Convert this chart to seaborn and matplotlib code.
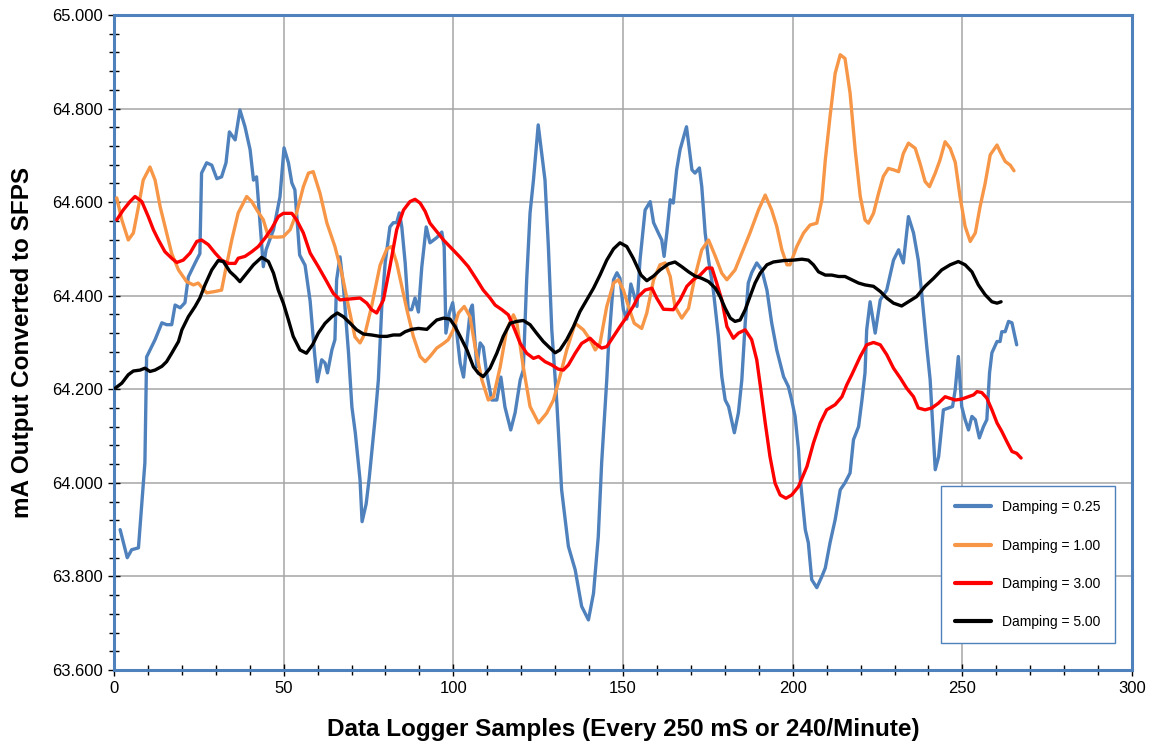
import matplotlib
matplotlib.use('Agg')
import matplotlib.pyplot as plt
from matplotlib.ticker import MultipleLocator, FormatStrFormatter
import pandas as pd
import seaborn as sns

# valeurs
labels = ["Damping = 0.25", "Damping = 1.00", "Damping = 3.00", "Damping = 5.00"]
colors = ["#4F81BD", "#F79646", "#FF0000", "#000000"]

d025_x = [1.8, 3.9, 5.2, 7.2, 8.2, 9.1, 9.6, 12.1, 14.1, 15.5, 17.0, 18.0, 19.5, 20.9, 21.9, 23.9,
          25.3, 25.8, 27.3, 28.8, 30.3, 31.7, 33.0, 34.0, 35.7, 37.1, 38.6, 40.1, 41.1, 42.0, 42.8,
          44.0, 44.8, 47.0, 48.9, 50.1, 51.4, 52.4, 53.3, 54.7, 56.3, 57.8, 59.0, 59.9, 61.2, 62.2,
          62.9, 64.2, 65.1, 65.6, 66.6, 67.6, 69.1, 70.1, 71.1, 72.5, 73.1, 74.3, 75.2, 76.9, 77.9,
          78.9, 79.9, 81.3, 82.3, 83.3, 84.1, 84.8, 85.8, 86.7, 87.7, 88.7, 89.7, 90.7, 92.0, 93.1,
          95.1, 96.6, 97.3, 97.8, 98.8, 99.8, 101.0, 102.0, 103.0, 104.0, 105.0, 105.6, 106.9, 107.9,
          108.8, 109.8, 111.3, 112.8, 114.0, 115.2, 116.9, 118.2, 119.7, 120.6, 121.6, 122.6, 123.6,
          125.0, 127.0, 128.0, 129.0, 130.5, 131.9, 133.9, 135.9, 137.8, 139.8, 141.3, 142.7, 143.7,
          145.2, 145.7, 147.2, 148.2, 149.1, 150.1, 151.1, 151.6, 152.3, 153.3, 154.1, 155.0, 156.5,
          158.0, 159.0, 160.4, 161.4, 162.1, 162.9, 163.9, 164.8, 165.8, 166.8, 168.7, 170.3, 171.2,
          172.5, 173.2, 174.2, 175.2, 176.6, 178.1, 179.1, 180.1, 181.1, 182.8, 184.0, 185.0, 186.0,
          186.9, 187.9, 189.4, 190.9, 192.4, 193.8, 195.3, 197.3, 198.7, 199.7, 200.7, 201.7, 202.2,
          203.7, 204.6, 205.6, 207.1, 208.6, 209.6, 211.0, 212.5, 214.0, 215.4, 216.9, 217.9, 219.4,
          220.4, 221.3, 221.8, 222.8, 224.3, 225.8, 227.7, 229.7, 231.2, 232.6, 234.1, 235.6, 237.0,
          238.0, 239.5, 240.5, 242.0, 243.0, 244.4, 247.1, 247.9, 248.8, 249.8, 250.8, 251.8, 252.8,
          253.8, 255.0, 256.2, 257.2, 258.0, 258.7, 260.2, 261.1, 261.6, 262.6, 263.6, 264.6, 266.0]
d025_y = [63.900, 63.840, 63.857, 63.861, 63.957, 64.043, 64.269, 64.306, 64.342, 64.338, 64.338,
          64.380, 64.374, 64.385, 64.440, 64.470, 64.490, 64.662, 64.684, 64.679, 64.650, 64.654,
          64.684, 64.750, 64.733, 64.797, 64.761, 64.712, 64.647, 64.654, 64.577, 64.462, 64.498,
          64.541, 64.611, 64.716, 64.684, 64.641, 64.626, 64.487, 64.465, 64.388, 64.284, 64.216,
          64.263, 64.256, 64.235, 64.284, 64.306, 64.434, 64.483, 64.419, 64.278, 64.162, 64.107,
          64.006, 63.917, 63.955, 64.010, 64.135, 64.220, 64.376, 64.470, 64.547, 64.556, 64.556,
          64.577, 64.547, 64.470, 64.370, 64.370, 64.395, 64.365, 64.462, 64.547, 64.513, 64.524,
          64.536, 64.504, 64.320, 64.363, 64.385, 64.320, 64.256, 64.226, 64.300, 64.370, 64.380,
          64.248, 64.299, 64.290, 64.235, 64.177, 64.177, 64.226, 64.162, 64.113, 64.150, 64.220,
          64.241, 64.434, 64.577, 64.647, 64.765, 64.647, 64.504, 64.327, 64.170, 63.985, 63.864,
          63.814, 63.736, 63.707, 63.764, 63.885, 64.043, 64.220, 64.290, 64.434, 64.449, 64.437,
          64.370, 64.350, 64.377, 64.425, 64.400, 64.377, 64.476, 64.583, 64.601, 64.556, 64.534,
          64.519, 64.484, 64.534, 64.605, 64.598, 64.669, 64.712, 64.761, 64.669, 64.662, 64.673,
          64.633, 64.534, 64.476, 64.412, 64.313, 64.227, 64.177, 64.163, 64.107, 64.150, 64.220,
          64.342, 64.427, 64.449, 64.470, 64.455, 64.412, 64.342, 64.284, 64.227, 64.206, 64.177,
          64.142, 64.071, 64.010, 63.900, 63.872, 63.793, 63.776, 63.800, 63.818, 63.872, 63.921,
          63.985, 64.000, 64.021, 64.092, 64.120, 64.177, 64.235, 64.327, 64.387, 64.320, 64.391,
          64.412, 64.476, 64.498, 64.470, 64.569, 64.534, 64.476, 64.406, 64.291, 64.220, 64.028,
          64.056, 64.156, 64.163, 64.200, 64.270, 64.163, 64.135, 64.113, 64.142, 64.135, 64.096,
          64.120, 64.135, 64.235, 64.278, 64.302, 64.302, 64.323, 64.323, 64.345, 64.342, 64.295]

d100_x = [0.8, 2.3, 4.2, 5.7, 7.2, 8.6, 10.6, 12.1, 13.6, 15.5, 17.0, 19.0, 21.4, 23.4, 24.8, 27.3,
          29.8, 31.7, 32.7, 34.7, 36.6, 39.1, 40.6, 42.1, 44.0, 45.5, 48.0, 49.9, 51.9, 53.8, 55.8,
          57.3, 58.7, 60.7, 62.7, 65.1, 67.1, 69.1, 71.0, 72.5, 74.0, 75.9, 78.4, 80.4, 81.8, 83.3,
          84.8, 86.3, 88.2, 90.2, 91.7, 93.1, 95.1, 97.1, 98.5, 100.0, 101.5, 103.2, 104.9, 106.4,
          108.4, 110.3, 111.8, 113.8, 115.7, 117.7, 118.7, 120.6, 122.6, 125.1, 127.5, 129.5, 131.4,
          133.4, 135.9, 138.3, 140.3, 141.8, 143.2, 145.2, 147.2, 148.6, 150.1, 151.6, 153.3, 155.5,
          157.0, 159.0, 160.9, 162.4, 163.9, 165.3, 167.3, 169.3, 171.2, 173.2, 175.2, 177.2, 179.1,
          180.6, 183.0, 185.0, 187.4, 189.9, 191.9, 193.8, 195.3, 196.8, 198.3, 199.2, 201.2, 203.2,
          205.1, 207.1, 208.6, 209.6, 211.0, 212.5, 214.0, 215.4, 216.9, 218.4, 219.9, 221.3, 222.3,
          223.8, 225.3, 226.7, 228.2, 229.7, 231.2, 232.6, 234.1, 236.1, 237.5, 239.0, 240.3, 242.0,
          243.4, 244.9, 246.4, 247.9, 249.3, 250.8, 252.3, 253.8, 255.2, 256.7, 258.2, 260.2, 261.1,
          262.6, 264.1, 265.2]
d100_y = [64.609, 64.562, 64.519, 64.534, 64.590, 64.647, 64.675, 64.647, 64.590, 64.534, 64.490,
          64.455, 64.430, 64.423, 64.427, 64.406, 64.409, 64.412, 64.449, 64.519, 64.577, 64.612,
          64.601, 64.583, 64.562, 64.526, 64.525, 64.526, 64.541, 64.577, 64.633, 64.662, 64.665,
          64.619, 64.556, 64.505, 64.449, 64.377, 64.312, 64.299, 64.320, 64.377, 64.465, 64.500,
          64.505, 64.470, 64.420, 64.370, 64.313, 64.270, 64.259, 64.270, 64.288, 64.298, 64.306,
          64.327, 64.363, 64.377, 64.355, 64.291, 64.220, 64.177, 64.184, 64.248, 64.327, 64.359,
          64.342, 64.248, 64.163, 64.128, 64.149, 64.177, 64.227, 64.284, 64.341, 64.327, 64.306,
          64.284, 64.298, 64.377, 64.427, 64.434, 64.412, 64.377, 64.341, 64.330, 64.363, 64.434,
          64.466, 64.470, 64.441, 64.377, 64.352, 64.373, 64.441, 64.498, 64.519, 64.484, 64.448,
          64.434, 64.455, 64.491, 64.534, 64.583, 64.615, 64.583, 64.548, 64.498, 64.466, 64.466,
          64.505, 64.534, 64.551, 64.555, 64.605, 64.690, 64.783, 64.875, 64.915, 64.907, 64.833,
          64.712, 64.612, 64.562, 64.555, 64.576, 64.619, 64.655, 64.672, 64.669, 64.665, 64.704,
          64.726, 64.715, 64.683, 64.644, 64.633, 64.662, 64.690, 64.729, 64.715, 64.685, 64.612,
          64.548, 64.516, 64.534, 64.590, 64.640, 64.701, 64.722, 64.708, 64.687, 64.679, 64.667]

d300_x = [0.8, 2.7, 4.7, 6.2, 8.2, 10.1, 11.6, 13.1, 15.0, 17.0, 18.5, 20.4, 22.4, 24.4, 25.8, 27.8,
          29.8, 31.7, 33.7, 35.7, 36.6, 38.6, 40.6, 42.5, 44.5, 46.5, 48.4, 49.9, 52.4, 53.8, 55.8,
          57.8, 60.2, 62.7, 64.6, 66.6, 69.6, 72.5, 74.5, 75.9, 77.4, 79.4, 81.3, 83.3, 85.3, 87.2,
          88.7, 90.2, 91.7, 93.1, 95.1, 97.1, 99.5, 102.0, 104.4, 106.9, 108.8, 110.8, 112.3, 114.3,
          116.2, 117.7, 119.7, 121.6, 123.6, 125.1, 127.0, 129.0, 130.9, 132.4, 133.9, 135.9, 137.8,
          140.3, 141.8, 143.7, 145.2, 147.2, 149.1, 151.1, 153.0, 154.5, 156.5, 158.5, 159.9, 161.9,
          164.8, 166.8, 168.8, 170.7, 172.7, 174.7, 176.2, 177.6, 179.1, 180.6, 182.5, 184.0, 186.0,
          187.9, 189.4, 190.4, 191.9, 193.3, 194.8, 196.3, 198.0, 199.7, 201.7, 204.2, 206.1, 208.1,
          210.0, 212.5, 214.5, 215.9, 217.4, 219.9, 221.8, 223.8, 225.8, 227.7, 229.7, 231.7, 233.6,
          235.6, 237.0, 239.0, 241.0, 242.9, 244.9, 247.9, 249.8, 251.8, 253.3, 254.3, 255.7, 257.2,
          258.7, 260.2, 261.6, 263.1, 264.6, 266.0, 267.3]
d300_y = [64.562, 64.583, 64.601, 64.612, 64.601, 64.569, 64.541, 64.519, 64.494, 64.480, 64.471,
          64.476, 64.491, 64.516, 64.519, 64.509, 64.491, 64.476, 64.469, 64.469, 64.480, 64.484,
          64.494, 64.505, 64.523, 64.544, 64.569, 64.576, 64.576, 64.562, 64.534, 64.491, 64.462,
          64.430, 64.405, 64.391, 64.393, 64.395, 64.384, 64.370, 64.363, 64.391, 64.462, 64.541,
          64.583, 64.601, 64.606, 64.598, 64.580, 64.555, 64.537, 64.519, 64.501, 64.482, 64.462,
          64.434, 64.412, 64.395, 64.380, 64.370, 64.359, 64.334, 64.298, 64.277, 64.266, 64.270,
          64.259, 64.252, 64.243, 64.241, 64.252, 64.277, 64.298, 64.309, 64.298, 64.288, 64.291,
          64.313, 64.334, 64.355, 64.377, 64.398, 64.412, 64.416, 64.395, 64.371, 64.370, 64.391,
          64.420, 64.434, 64.444, 64.459, 64.459, 64.427, 64.391, 64.334, 64.309, 64.320, 64.327,
          64.306, 64.263, 64.210, 64.128, 64.056, 63.999, 63.974, 63.967, 63.974, 63.992, 64.035,
          64.085, 64.128, 64.156, 64.167, 64.184, 64.209, 64.231, 64.270, 64.295, 64.300, 64.295,
          64.274, 64.245, 64.224, 64.202, 64.184, 64.160, 64.156, 64.160, 64.170, 64.184, 64.177,
          64.179, 64.184, 64.188, 64.195, 64.193, 64.181, 64.156, 64.128, 64.110, 64.088, 64.067,
          64.063, 64.053]

d500_x = [0.3, 2.3, 4.2, 5.7, 7.7, 9.1, 10.6, 12.1, 14.1, 15.5, 17.0, 19.0, 20.0, 21.9, 23.9, 25.3,
          26.8, 28.8, 30.7, 32.2, 34.2, 35.7, 37.1, 39.1, 41.1, 43.5, 45.5, 47.0, 48.4, 49.9, 51.4,
          52.8, 54.8, 56.7, 58.5, 60.2, 62.2, 64.2, 65.8, 67.6, 69.6, 71.5, 73.5, 75.9, 78.4, 80.4,
          82.3, 84.3, 85.8, 87.7, 89.7, 92.2, 93.6, 95.1, 97.1, 99.0, 100.5, 102.0, 104.0, 105.9,
          107.4, 108.8, 110.8, 112.8, 114.7, 116.7, 118.7, 120.6, 122.6, 124.5, 126.5, 128.5, 130.0,
          131.4, 133.4, 135.4, 137.3, 139.3, 141.3, 143.2, 145.2, 147.2, 149.1, 151.1, 153.0, 155.3,
          157.0, 159.0, 160.9, 163.4, 165.3, 167.3, 169.3, 171.2, 173.2, 175.2, 177.2, 178.6, 180.1,
          181.6, 183.0, 184.5, 186.0, 187.4, 188.9, 190.4, 192.4, 194.3, 197.3, 200.2, 202.7, 204.6,
          206.1, 207.6, 209.6, 211.5, 213.5, 215.4, 217.4, 219.4, 221.3, 223.8, 225.8, 227.7, 229.7,
          232.1, 234.1, 236.5, 239.0, 241.5, 243.9, 246.4, 248.8, 250.8, 252.8, 254.7, 256.7, 258.7,
          260.2, 261.4]
d500_y = [64.202, 64.213, 64.231, 64.239, 64.241, 64.245, 64.238, 64.241, 64.249, 64.259, 64.277,
          64.302, 64.327, 64.355, 64.377, 64.395, 64.423, 64.455, 64.475, 64.473, 64.451, 64.441,
          64.430, 64.448, 64.466, 64.482, 64.473, 64.448, 64.412, 64.384, 64.348, 64.313, 64.284,
          64.277, 64.295, 64.320, 64.341, 64.355, 64.363, 64.355, 64.341, 64.327, 64.318, 64.316,
          64.313, 64.313, 64.316, 64.316, 64.323, 64.328, 64.330, 64.328, 64.338, 64.348, 64.352,
          64.350, 64.334, 64.313, 64.284, 64.248, 64.234, 64.227, 64.245, 64.277, 64.313, 64.341,
          64.345, 64.347, 64.338, 64.320, 64.302, 64.288, 64.278, 64.284, 64.306, 64.334, 64.366,
          64.391, 64.416, 64.444, 64.476, 64.500, 64.513, 64.505, 64.480, 64.444, 64.432, 64.442,
          64.455, 64.468, 64.472, 64.462, 64.451, 64.442, 64.437, 64.430, 64.416, 64.398, 64.373,
          64.352, 64.345, 64.348, 64.370, 64.398, 64.427, 64.448, 64.466, 64.472, 64.475, 64.476,
          64.478, 64.476, 64.466, 64.451, 64.444, 64.444, 64.441, 64.441, 64.434, 64.427, 64.423,
          64.420, 64.409, 64.395, 64.384, 64.378, 64.387, 64.398, 64.420, 64.437, 64.455, 64.466,
          64.473, 64.466, 64.451, 64.423, 64.402, 64.387, 64.384, 64.387]

series_x = [d025_x, d100_x, d300_x, d500_x]
series_y = [d025_y, d100_y, d300_y, d500_y]

frames = []
for lab, xs, ys in zip(labels, series_x, series_y):
    frames.append(pd.DataFrame({"sample": xs, "value": ys, "series": lab}))
df = pd.concat(frames, ignore_index=True)

sns.set_style("white")
plt.rcParams['font.family'] = ['Liberation Sans', 'DejaVu Sans']
plt.rcParams['text.color'] = 'black'
plt.rcParams['axes.labelcolor'] = 'black'
plt.rcParams['xtick.color'] = 'black'
plt.rcParams['ytick.color'] = 'black'

fig = plt.figure(figsize=(11.54, 7.44), dpi=100)
ax = fig.add_axes([0.0988, 0.0995, 0.8822, 0.8804])

sns.lineplot(data=df, x="sample", y="value", hue="series", hue_order=labels,
             palette=dict(zip(labels, colors)), estimator=None, sort=False,
             linewidth=2.4, ax=ax, zorder=3)

ax.set_xlim(0, 300)
ax.set_ylim(63.6, 65.0)
ax.xaxis.set_major_locator(MultipleLocator(50))
ax.xaxis.set_minor_locator(MultipleLocator(10))
ax.yaxis.set_major_locator(MultipleLocator(0.2))
ax.yaxis.set_minor_locator(MultipleLocator(0.04))
ax.yaxis.set_major_formatter(FormatStrFormatter('%.3f'))
ax.grid(True, which='major', color='#A6A6A6', linewidth=1.1, zorder=0)
ax.tick_params(which='both', direction='inout', color='black', labelcolor='black',
               width=1, left=True, bottom=True, labelsize=12)
ax.tick_params(which='major', length=8, pad=4)
ax.tick_params(which='minor', length=7)
for s in ax.spines.values():
    s.set_color('#4F81BD')
    s.set_linewidth(2.2)

ax.set_xlabel("Data Logger Samples (Every 250 mS or 240/Minute)", fontsize=17.5,
              fontweight='bold', labelpad=16, color='black')
ax.set_ylabel("mA Output Converted to SFPS", fontsize=17.5, fontweight='bold',
              labelpad=13, color='black')

leg = ax.legend(loc='lower right', bbox_to_anchor=(0.983, 0.041), borderaxespad=0,
                fontsize=10, frameon=True, fancybox=False, edgecolor='#4F81BD',
                framealpha=1, handlelength=2.6, labelspacing=1.75, borderpad=1.0,
                handletextpad=0.8)
leg.get_frame().set_linewidth(1.0)
for line in leg.get_lines():
    line.set_linewidth(3)

fig.savefig("out.png", dpi=100)
